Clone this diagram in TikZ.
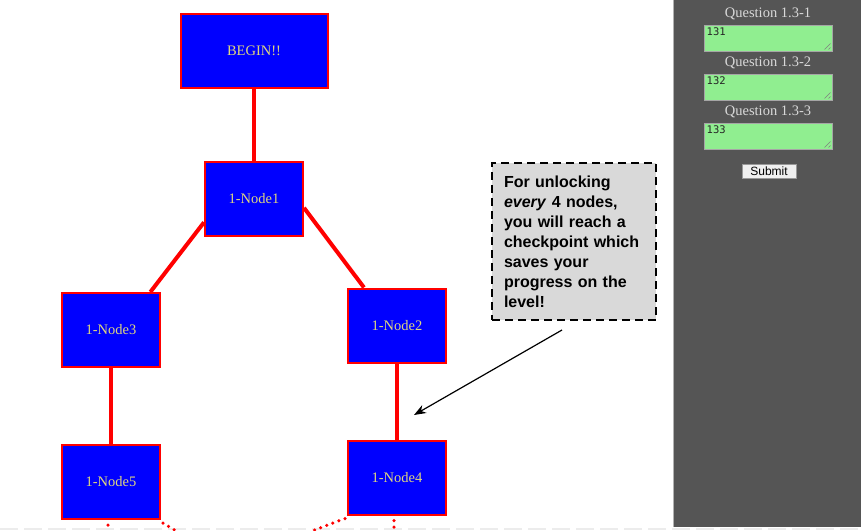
\documentclass[tikz,border=0pt]{standalone}
\usepackage{fontspec}
\setmainfont{Liberation Serif}
\newfontfamily\arialfont{Liberation Sans}
\newfontfamily\codefont{DejaVu Sans Mono}
\usetikzlibrary{arrows.meta}

\definecolor{nodetext}{RGB}{222,214,128}
\definecolor{panelgray}{RGB}{85,85,85}
\definecolor{answergreen}{RGB}{144,238,144}
\definecolor{notegray}{RGB}{217,217,217}

\tikzset{
  levelnode/.style={draw=red, fill=blue, line width=2, text=nodetext,
    font=\fontsize{14.5}{17}\selectfont, minimum height=74},
  levelline/.style={draw=red, line width=4},
  nextline/.style={draw=red, line width=3.5, line cap=round,
    dash pattern=on 0pt off 6.5pt},
  qlabel/.style={text=white!85!black, font=\fontsize{14.5}{17}\selectfont},
  qbox/.style={draw=black!35, fill=answergreen, line width=1,
    minimum width=128, minimum height=26},
}

\begin{document}
\begin{tikzpicture}[x=1pt, y=-1pt]
  \useasboundingbox (0,0) rectangle (861,530);
  \fill[white] (0,0) rectangle (861,530);
  \draw[gray!15, line width=2, dash pattern=on 18pt off 6pt] (0,529) -- (861,529);

  % level tree
  \node[levelnode, minimum width=147] (begin) at (254,51) {BEGIN!!};
  \node[levelnode, minimum width=98] (n1) at (254,199) {1-Node1};
  \node[levelnode, minimum width=98] (n3) at (111,330) {1-Node3};
  \node[levelnode, minimum width=98] (n2) at (397,325.5) {1-Node2};
  \node[levelnode, minimum width=98] (n5) at (111,482) {1-Node5};
  \node[levelnode, minimum width=98] (n4) at (397,477.5) {1-Node4};

  \draw[levelline] (begin.south) -- (n1.north);
  \draw[levelline] (n1.205) -- (n3.44);
  \draw[levelline] (n1.350) -- (n2.131);
  \draw[levelline] (n3.south) -- (n5.north);
  \draw[levelline] (n2.south) -- (n4.north);

  % links to the next level, cut off by the page
  \coordinate (n5down) at (108,531);
  \coordinate (n5right) at (176,531);
  \coordinate (n4left) at (312,531);
  \coordinate (n4down) at (394,531);
  \draw[nextline] ([xshift=-3,yshift=-5]n5.south) -- (n5down);
  \draw[nextline] ([xshift=2,yshift=-3]n5.south east) -- (n5right);
  \draw[nextline] ([xshift=-2,yshift=-3]n4.south west) -- (n4left);
  \draw[nextline] ([xshift=-3,yshift=-5]n4.south) -- (n4down);

  % checkpoint note
  \node[draw=black, fill=notegray, line width=2, dash pattern=on 8pt off 5pt,
    minimum width=164, minimum height=157, text width=140, align=left,
    inner xsep=12, font=\arialfont\bfseries\fontsize{16}{20}\selectfont]
    (note) at (574,241.5)
    {For unlocking\\ \textit{every} 4 nodes,\\ you will reach a\\ checkpoint which\\ saves your\\ progress on the\\ level!};
  \coordinate (tail) at (562,330);
  \coordinate (tip) at (414,415);
  \draw[line width=1.2, -{Stealth[length=12, width=9]}] (tail) -- (tip);

  % question panel
  \fill[panelgray] (673,0) rectangle (861,527);
  \draw[gray!60, line width=1] (673.5,0) -- (673.5,527);
  \foreach \i/\y in {1/0, 2/49, 3/98} {
    \node[qlabel] (q\i) at (768,14+\y) {Question 1.3-\i};
    \node[qbox] (a\i) at (768,38+\y) {};
    \node[anchor=north west, inner sep=0, font=\codefont\fontsize{10.5}{12}\selectfont,
      text=black!85] (t\i) at ([xshift=3,yshift=-3]a\i.north west) {13\i};
    \draw[gray, line width=0.6] ([xshift=-8,yshift=2]a\i.south east) -- ([xshift=-2,yshift=8]a\i.south east)
      ([xshift=-4,yshift=2]a\i.south east) -- ([xshift=-2,yshift=4]a\i.south east);
  }
  \node[draw=gray!80, fill=white!94!black, line width=1, minimum width=54, minimum height=14,
    inner sep=0, font=\arialfont\fontsize{12}{14}\selectfont] (submit) at (769,171) {Submit};
\end{tikzpicture}
\end{document}
